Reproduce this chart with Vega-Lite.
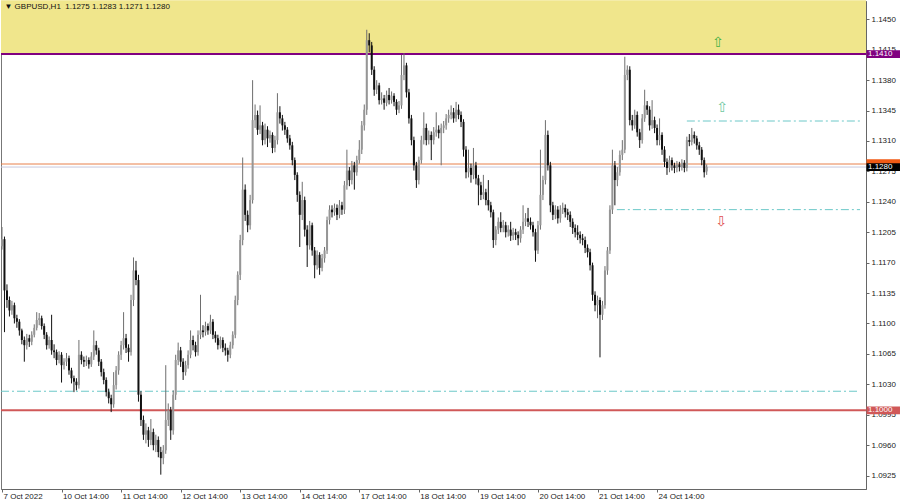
{
  "$schema": "https://vega.github.io/schema/vega-lite/v6.json",
  "width": 865,
  "height": 488,
  "autosize": {"type": "none"},
  "padding": {"left": 1, "top": 1, "right": 34, "bottom": 13},
  "background": "white",
  "config": {
    "view": {"stroke": "#777", "strokeWidth": 1},
    "axis": {"labelFont": "Liberation Sans", "labelFontSize": 8, "labelColor": "#222", "grid": false, "domainColor": "#666", "tickColor": "#666", "labelOverlap": false, "labelFlush": false, "zindex": 0}
  },
  "datasets": {
    "candles": [
      {"i":0,"o":1.1189,"h":1.1211,"l":1.1185,"c":1.1197},
      {"i":1,"o":1.1197,"h":1.1200,"l":1.1090,"c":1.1138},
      {"i":2,"o":1.1138,"h":1.1145,"l":1.1118,"c":1.1127},
      {"i":3,"o":1.1127,"h":1.1131,"l":1.1108,"c":1.1115},
      {"i":4,"o":1.1115,"h":1.1126,"l":1.1110,"c":1.1121},
      {"i":5,"o":1.1121,"h":1.1124,"l":1.1100,"c":1.1106},
      {"i":6,"o":1.1106,"h":1.1110,"l":1.1095,"c":1.1102},
      {"i":7,"o":1.1102,"h":1.1105,"l":1.1086,"c":1.1092},
      {"i":8,"o":1.1092,"h":1.1094,"l":1.1076,"c":1.1081},
      {"i":9,"o":1.1081,"h":1.1085,"l":1.1056,"c":1.1075},
      {"i":10,"o":1.1075,"h":1.1088,"l":1.1070,"c":1.1083},
      {"i":11,"o":1.1083,"h":1.1087,"l":1.1073,"c":1.1079},
      {"i":12,"o":1.1079,"h":1.1091,"l":1.1075,"c":1.1087},
      {"i":13,"o":1.1087,"h":1.1099,"l":1.1084,"c":1.1095},
      {"i":14,"o":1.1095,"h":1.1113,"l":1.1092,"c":1.1104},
      {"i":15,"o":1.1104,"h":1.1112,"l":1.1098,"c":1.1106},
      {"i":16,"o":1.1106,"h":1.1109,"l":1.1093,"c":1.1097},
      {"i":17,"o":1.1097,"h":1.1100,"l":1.1082,"c":1.1087},
      {"i":18,"o":1.1087,"h":1.1090,"l":1.1070,"c":1.1075},
      {"i":19,"o":1.1075,"h":1.1085,"l":1.1071,"c":1.1081},
      {"i":20,"o":1.1081,"h":1.1110,"l":1.1064,"c":1.1069},
      {"i":21,"o":1.1069,"h":1.1076,"l":1.1060,"c":1.1067},
      {"i":22,"o":1.1067,"h":1.1070,"l":1.1052,"c":1.1058},
      {"i":23,"o":1.1058,"h":1.1068,"l":1.1054,"c":1.1064},
      {"i":24,"o":1.1064,"h":1.1067,"l":1.1032,"c":1.1052},
      {"i":25,"o":1.1052,"h":1.1060,"l":1.1047,"c":1.1056},
      {"i":26,"o":1.1056,"h":1.1066,"l":1.1051,"c":1.1060},
      {"i":27,"o":1.1060,"h":1.1063,"l":1.1041,"c":1.1046},
      {"i":28,"o":1.1046,"h":1.1049,"l":1.1031,"c":1.1037},
      {"i":29,"o":1.1037,"h":1.1040,"l":1.1021,"c":1.1033},
      {"i":30,"o":1.1033,"h":1.1037,"l":1.1023,"c":1.1029},
      {"i":31,"o":1.1029,"h":1.1081,"l":1.1025,"c":1.1064},
      {"i":32,"o":1.1064,"h":1.1068,"l":1.1053,"c":1.1058},
      {"i":33,"o":1.1058,"h":1.1062,"l":1.1050,"c":1.1056},
      {"i":34,"o":1.1056,"h":1.1063,"l":1.1051,"c":1.1058},
      {"i":35,"o":1.1058,"h":1.1061,"l":1.1048,"c":1.1053},
      {"i":36,"o":1.1053,"h":1.1067,"l":1.1050,"c":1.1062},
      {"i":37,"o":1.1062,"h":1.1092,"l":1.1058,"c":1.1075},
      {"i":38,"o":1.1075,"h":1.1080,"l":1.1064,"c":1.1069},
      {"i":39,"o":1.1069,"h":1.1072,"l":1.1051,"c":1.1056},
      {"i":40,"o":1.1056,"h":1.1059,"l":1.1039,"c":1.1044},
      {"i":41,"o":1.1044,"h":1.1048,"l":1.1030,"c":1.1035},
      {"i":42,"o":1.1035,"h":1.1038,"l":1.1016,"c":1.1021},
      {"i":43,"o":1.1021,"h":1.1025,"l":1.1008,"c":1.1014},
      {"i":44,"o":1.1014,"h":1.1018,"l":1.0998,"c":1.1007},
      {"i":45,"o":1.1007,"h":1.1044,"l":1.1003,"c":1.1029},
      {"i":46,"o":1.1029,"h":1.1051,"l":1.1024,"c":1.1046},
      {"i":47,"o":1.1046,"h":1.1068,"l":1.1041,"c":1.1064},
      {"i":48,"o":1.1064,"h":1.1080,"l":1.1058,"c":1.1075},
      {"i":49,"o":1.1075,"h":1.1113,"l":1.1070,"c":1.1083},
      {"i":50,"o":1.1083,"h":1.1088,"l":1.1066,"c":1.1072},
      {"i":51,"o":1.1072,"h":1.1076,"l":1.1056,"c":1.1067},
      {"i":52,"o":1.1067,"h":1.1133,"l":1.1063,"c":1.1127},
      {"i":53,"o":1.1127,"h":1.1176,"l":1.1120,"c":1.1161},
      {"i":54,"o":1.1161,"h":1.1172,"l":1.1144,"c":1.1150},
      {"i":55,"o":1.1150,"h":1.1156,"l":1.1010,"c":1.1018},
      {"i":56,"o":1.1018,"h":1.1022,"l":1.0982,"c":1.0989},
      {"i":57,"o":1.0989,"h":1.0994,"l":1.0966,"c":1.0972},
      {"i":58,"o":1.0972,"h":1.0985,"l":1.0962,"c":1.0977},
      {"i":59,"o":1.0977,"h":1.0981,"l":1.0958,"c":1.0966},
      {"i":60,"o":1.0966,"h":1.0990,"l":1.0960,"c":1.0975},
      {"i":61,"o":1.0975,"h":1.0979,"l":1.0954,"c":1.0960},
      {"i":62,"o":1.0960,"h":1.0972,"l":1.0952,"c":1.0966},
      {"i":63,"o":1.0966,"h":1.0970,"l":1.0946,"c":1.0952},
      {"i":64,"o":1.0952,"h":1.0958,"l":1.0926,"c":1.0945},
      {"i":65,"o":1.0945,"h":1.0960,"l":1.0938,"c":1.0954},
      {"i":66,"o":1.0954,"h":1.1052,"l":1.0950,"c":1.0989},
      {"i":67,"o":1.0989,"h":1.1008,"l":1.0982,"c":1.1000},
      {"i":68,"o":1.1000,"h":1.1004,"l":1.0966,"c":1.0977},
      {"i":69,"o":1.0977,"h":1.1023,"l":1.0972,"c":1.1018},
      {"i":70,"o":1.1018,"h":1.1064,"l":1.1012,"c":1.1058},
      {"i":71,"o":1.1058,"h":1.1078,"l":1.1052,"c":1.1069},
      {"i":72,"o":1.1069,"h":1.1073,"l":1.1050,"c":1.1056},
      {"i":73,"o":1.1056,"h":1.1060,"l":1.1035,"c":1.1044},
      {"i":74,"o":1.1044,"h":1.1057,"l":1.1040,"c":1.1052},
      {"i":75,"o":1.1052,"h":1.1069,"l":1.1048,"c":1.1064},
      {"i":76,"o":1.1064,"h":1.1092,"l":1.1060,"c":1.1081},
      {"i":77,"o":1.1081,"h":1.1086,"l":1.1069,"c":1.1075},
      {"i":78,"o":1.1075,"h":1.1079,"l":1.1062,"c":1.1067},
      {"i":79,"o":1.1067,"h":1.1092,"l":1.1063,"c":1.1087},
      {"i":80,"o":1.1087,"h":1.1133,"l":1.1082,"c":1.1092},
      {"i":81,"o":1.1092,"h":1.1098,"l":1.1084,"c":1.1090},
      {"i":82,"o":1.1090,"h":1.1102,"l":1.1086,"c":1.1097},
      {"i":83,"o":1.1097,"h":1.1100,"l":1.1087,"c":1.1092},
      {"i":84,"o":1.1092,"h":1.1110,"l":1.1088,"c":1.1102},
      {"i":85,"o":1.1102,"h":1.1105,"l":1.1082,"c":1.1087},
      {"i":86,"o":1.1087,"h":1.1091,"l":1.1078,"c":1.1083},
      {"i":87,"o":1.1083,"h":1.1087,"l":1.1070,"c":1.1075},
      {"i":88,"o":1.1075,"h":1.1085,"l":1.1071,"c":1.1081},
      {"i":89,"o":1.1081,"h":1.1084,"l":1.1067,"c":1.1072},
      {"i":90,"o":1.1072,"h":1.1077,"l":1.1063,"c":1.1069},
      {"i":91,"o":1.1069,"h":1.1072,"l":1.1056,"c":1.1064},
      {"i":92,"o":1.1064,"h":1.1079,"l":1.1060,"c":1.1075},
      {"i":93,"o":1.1075,"h":1.1091,"l":1.1071,"c":1.1087},
      {"i":94,"o":1.1087,"h":1.1132,"l":1.1083,"c":1.1127},
      {"i":95,"o":1.1127,"h":1.1160,"l":1.1121,"c":1.1156},
      {"i":96,"o":1.1156,"h":1.1202,"l":1.1150,"c":1.1196},
      {"i":97,"o":1.1196,"h":1.1291,"l":1.1190,"c":1.1254},
      {"i":98,"o":1.1254,"h":1.1260,"l":1.1218,"c":1.1225},
      {"i":99,"o":1.1225,"h":1.1230,"l":1.1205,"c":1.1213},
      {"i":100,"o":1.1213,"h":1.1248,"l":1.1208,"c":1.1242},
      {"i":101,"o":1.1242,"h":1.1380,"l":1.1238,"c":1.1334},
      {"i":102,"o":1.1334,"h":1.1352,"l":1.1325,"c":1.1340},
      {"i":103,"o":1.1340,"h":1.1345,"l":1.1317,"c":1.1323},
      {"i":104,"o":1.1323,"h":1.1351,"l":1.1318,"c":1.1328},
      {"i":105,"o":1.1328,"h":1.1332,"l":1.1305,"c":1.1311},
      {"i":106,"o":1.1311,"h":1.1330,"l":1.1306,"c":1.1323},
      {"i":107,"o":1.1323,"h":1.1327,"l":1.1303,"c":1.1313},
      {"i":108,"o":1.1313,"h":1.1322,"l":1.1308,"c":1.1317},
      {"i":109,"o":1.1317,"h":1.1320,"l":1.1296,"c":1.1302},
      {"i":110,"o":1.1302,"h":1.1316,"l":1.1297,"c":1.1311},
      {"i":111,"o":1.1311,"h":1.1365,"l":1.1306,"c":1.1343},
      {"i":112,"o":1.1343,"h":1.1350,"l":1.1330,"c":1.1336},
      {"i":113,"o":1.1336,"h":1.1340,"l":1.1322,"c":1.1328},
      {"i":114,"o":1.1328,"h":1.1332,"l":1.1317,"c":1.1323},
      {"i":115,"o":1.1323,"h":1.1326,"l":1.1308,"c":1.1313},
      {"i":116,"o":1.1313,"h":1.1317,"l":1.1300,"c":1.1305},
      {"i":117,"o":1.1305,"h":1.1309,"l":1.1282,"c":1.1288},
      {"i":118,"o":1.1288,"h":1.1291,"l":1.1265,"c":1.1271},
      {"i":119,"o":1.1271,"h":1.1274,"l":1.1240,"c":1.1248},
      {"i":120,"o":1.1248,"h":1.1252,"l":1.1188,"c":1.1225},
      {"i":121,"o":1.1225,"h":1.1263,"l":1.1219,"c":1.1242},
      {"i":122,"o":1.1242,"h":1.1246,"l":1.1200,"c":1.1208},
      {"i":123,"o":1.1208,"h":1.1213,"l":1.1165,"c":1.1190},
      {"i":124,"o":1.1190,"h":1.1218,"l":1.1185,"c":1.1213},
      {"i":125,"o":1.1213,"h":1.1216,"l":1.1178,"c":1.1184},
      {"i":126,"o":1.1184,"h":1.1188,"l":1.1152,"c":1.1167},
      {"i":127,"o":1.1167,"h":1.1184,"l":1.1162,"c":1.1179},
      {"i":128,"o":1.1179,"h":1.1182,"l":1.1156,"c":1.1164},
      {"i":129,"o":1.1164,"h":1.1180,"l":1.1160,"c":1.1175},
      {"i":130,"o":1.1175,"h":1.1188,"l":1.1170,"c":1.1184},
      {"i":131,"o":1.1184,"h":1.1223,"l":1.1180,"c":1.1219},
      {"i":132,"o":1.1219,"h":1.1236,"l":1.1214,"c":1.1231},
      {"i":133,"o":1.1231,"h":1.1236,"l":1.1222,"c":1.1228},
      {"i":134,"o":1.1228,"h":1.1238,"l":1.1224,"c":1.1233},
      {"i":135,"o":1.1233,"h":1.1237,"l":1.1219,"c":1.1225},
      {"i":136,"o":1.1225,"h":1.1242,"l":1.1221,"c":1.1236},
      {"i":137,"o":1.1236,"h":1.1240,"l":1.1225,"c":1.1231},
      {"i":138,"o":1.1231,"h":1.1264,"l":1.1226,"c":1.1259},
      {"i":139,"o":1.1259,"h":1.1300,"l":1.1254,"c":1.1276},
      {"i":140,"o":1.1276,"h":1.1280,"l":1.1258,"c":1.1265},
      {"i":141,"o":1.1265,"h":1.1287,"l":1.1260,"c":1.1282},
      {"i":142,"o":1.1282,"h":1.1286,"l":1.1254,"c":1.1274},
      {"i":143,"o":1.1274,"h":1.1293,"l":1.1270,"c":1.1288},
      {"i":144,"o":1.1288,"h":1.1311,"l":1.1284,"c":1.1300},
      {"i":145,"o":1.1300,"h":1.1333,"l":1.1295,"c":1.1328},
      {"i":146,"o":1.1328,"h":1.1352,"l":1.1322,"c":1.1346},
      {"i":147,"o":1.1346,"h":1.1438,"l":1.1340,"c":1.1426},
      {"i":148,"o":1.1426,"h":1.1434,"l":1.1412,"c":1.1420},
      {"i":149,"o":1.1420,"h":1.1424,"l":1.1386,"c":1.1392},
      {"i":150,"o":1.1392,"h":1.1396,"l":1.1362,"c":1.1369},
      {"i":151,"o":1.1369,"h":1.1380,"l":1.1364,"c":1.1374},
      {"i":152,"o":1.1374,"h":1.1377,"l":1.1352,"c":1.1357},
      {"i":153,"o":1.1357,"h":1.1366,"l":1.1352,"c":1.1359},
      {"i":154,"o":1.1359,"h":1.1363,"l":1.1346,"c":1.1354},
      {"i":155,"o":1.1354,"h":1.1368,"l":1.1350,"c":1.1363},
      {"i":156,"o":1.1363,"h":1.1371,"l":1.1352,"c":1.1357},
      {"i":157,"o":1.1357,"h":1.1367,"l":1.1353,"c":1.1362},
      {"i":158,"o":1.1362,"h":1.1365,"l":1.1350,"c":1.1355},
      {"i":159,"o":1.1355,"h":1.1358,"l":1.1340,"c":1.1346},
      {"i":160,"o":1.1346,"h":1.1356,"l":1.1342,"c":1.1351},
      {"i":161,"o":1.1351,"h":1.1409,"l":1.1347,"c":1.1386},
      {"i":162,"o":1.1386,"h":1.1411,"l":1.1380,"c":1.1397},
      {"i":163,"o":1.1397,"h":1.1400,"l":1.1360,"c":1.1366},
      {"i":164,"o":1.1366,"h":1.1370,"l":1.1330,"c":1.1336},
      {"i":165,"o":1.1336,"h":1.1340,"l":1.1305,"c":1.1311},
      {"i":166,"o":1.1311,"h":1.1315,"l":1.1276,"c":1.1282},
      {"i":167,"o":1.1282,"h":1.1286,"l":1.1256,"c":1.1265},
      {"i":168,"o":1.1265,"h":1.1292,"l":1.1260,"c":1.1288},
      {"i":169,"o":1.1288,"h":1.1316,"l":1.1284,"c":1.1311},
      {"i":170,"o":1.1311,"h":1.1343,"l":1.1306,"c":1.1325},
      {"i":171,"o":1.1325,"h":1.1330,"l":1.1305,"c":1.1311},
      {"i":172,"o":1.1311,"h":1.1322,"l":1.1306,"c":1.1317},
      {"i":173,"o":1.1317,"h":1.1321,"l":1.1288,"c":1.1311},
      {"i":174,"o":1.1311,"h":1.1326,"l":1.1306,"c":1.1320},
      {"i":175,"o":1.1320,"h":1.1343,"l":1.1315,"c":1.1323},
      {"i":176,"o":1.1323,"h":1.1328,"l":1.1313,"c":1.1319},
      {"i":177,"o":1.1319,"h":1.1330,"l":1.1282,"c":1.1325},
      {"i":178,"o":1.1325,"h":1.1333,"l":1.1319,"c":1.1328},
      {"i":179,"o":1.1328,"h":1.1341,"l":1.1323,"c":1.1336},
      {"i":180,"o":1.1336,"h":1.1346,"l":1.1331,"c":1.1340},
      {"i":181,"o":1.1340,"h":1.1351,"l":1.1335,"c":1.1343},
      {"i":182,"o":1.1343,"h":1.1348,"l":1.1331,"c":1.1336},
      {"i":183,"o":1.1336,"h":1.1355,"l":1.1332,"c":1.1346},
      {"i":184,"o":1.1346,"h":1.1352,"l":1.1335,"c":1.1340},
      {"i":185,"o":1.1340,"h":1.1344,"l":1.1326,"c":1.1332},
      {"i":186,"o":1.1332,"h":1.1335,"l":1.1292,"c":1.1300},
      {"i":187,"o":1.1300,"h":1.1304,"l":1.1267,"c":1.1274},
      {"i":188,"o":1.1274,"h":1.1300,"l":1.1268,"c":1.1279},
      {"i":189,"o":1.1279,"h":1.1284,"l":1.1262,"c":1.1271},
      {"i":190,"o":1.1271,"h":1.1302,"l":1.1266,"c":1.1282},
      {"i":191,"o":1.1282,"h":1.1286,"l":1.1260,"c":1.1267},
      {"i":192,"o":1.1267,"h":1.1271,"l":1.1236,"c":1.1259},
      {"i":193,"o":1.1259,"h":1.1263,"l":1.1242,"c":1.1248},
      {"i":194,"o":1.1248,"h":1.1271,"l":1.1243,"c":1.1251},
      {"i":195,"o":1.1251,"h":1.1255,"l":1.1236,"c":1.1242},
      {"i":196,"o":1.1242,"h":1.1265,"l":1.1230,"c":1.1236},
      {"i":197,"o":1.1236,"h":1.1240,"l":1.1222,"c":1.1228},
      {"i":198,"o":1.1228,"h":1.1231,"l":1.1187,"c":1.1196},
      {"i":199,"o":1.1196,"h":1.1212,"l":1.1190,"c":1.1208},
      {"i":200,"o":1.1208,"h":1.1222,"l":1.1203,"c":1.1217},
      {"i":201,"o":1.1217,"h":1.1228,"l":1.1205,"c":1.1210},
      {"i":202,"o":1.1210,"h":1.1219,"l":1.1205,"c":1.1213},
      {"i":203,"o":1.1213,"h":1.1217,"l":1.1199,"c":1.1205},
      {"i":204,"o":1.1205,"h":1.1213,"l":1.1200,"c":1.1208},
      {"i":205,"o":1.1208,"h":1.1217,"l":1.1195,"c":1.1201},
      {"i":206,"o":1.1201,"h":1.1210,"l":1.1196,"c":1.1205},
      {"i":207,"o":1.1205,"h":1.1209,"l":1.1196,"c":1.1202},
      {"i":208,"o":1.1202,"h":1.1206,"l":1.1190,"c":1.1198},
      {"i":209,"o":1.1198,"h":1.1212,"l":1.1193,"c":1.1208},
      {"i":210,"o":1.1208,"h":1.1236,"l":1.1203,"c":1.1217},
      {"i":211,"o":1.1217,"h":1.1227,"l":1.1212,"c":1.1221},
      {"i":212,"o":1.1221,"h":1.1233,"l":1.1211,"c":1.1217},
      {"i":213,"o":1.1217,"h":1.1222,"l":1.1208,"c":1.1213},
      {"i":214,"o":1.1213,"h":1.1217,"l":1.1200,"c":1.1205},
      {"i":215,"o":1.1205,"h":1.1209,"l":1.1171,"c":1.1184},
      {"i":216,"o":1.1184,"h":1.1218,"l":1.1180,"c":1.1213},
      {"i":217,"o":1.1213,"h":1.1300,"l":1.1208,"c":1.1248},
      {"i":218,"o":1.1248,"h":1.1270,"l":1.1242,"c":1.1265},
      {"i":219,"o":1.1265,"h":1.1334,"l":1.1260,"c":1.1317},
      {"i":220,"o":1.1317,"h":1.1322,"l":1.1276,"c":1.1282},
      {"i":221,"o":1.1282,"h":1.1286,"l":1.1228,"c":1.1236},
      {"i":222,"o":1.1236,"h":1.1240,"l":1.1219,"c":1.1225},
      {"i":223,"o":1.1225,"h":1.1236,"l":1.1220,"c":1.1231},
      {"i":224,"o":1.1231,"h":1.1235,"l":1.1215,"c":1.1221},
      {"i":225,"o":1.1221,"h":1.1236,"l":1.1216,"c":1.1231},
      {"i":226,"o":1.1231,"h":1.1239,"l":1.1226,"c":1.1233},
      {"i":227,"o":1.1233,"h":1.1237,"l":1.1222,"c":1.1228},
      {"i":228,"o":1.1228,"h":1.1232,"l":1.1219,"c":1.1225},
      {"i":229,"o":1.1225,"h":1.1229,"l":1.1211,"c":1.1217},
      {"i":230,"o":1.1217,"h":1.1221,"l":1.1203,"c":1.1210},
      {"i":231,"o":1.1210,"h":1.1214,"l":1.1199,"c":1.1205},
      {"i":232,"o":1.1205,"h":1.1213,"l":1.1196,"c":1.1202},
      {"i":233,"o":1.1202,"h":1.1206,"l":1.1192,"c":1.1198},
      {"i":234,"o":1.1198,"h":1.1203,"l":1.1190,"c":1.1196},
      {"i":235,"o":1.1196,"h":1.1200,"l":1.1181,"c":1.1187},
      {"i":236,"o":1.1187,"h":1.1191,"l":1.1176,"c":1.1182},
      {"i":237,"o":1.1182,"h":1.1186,"l":1.1161,"c":1.1167},
      {"i":238,"o":1.1167,"h":1.1170,"l":1.1126,"c":1.1133},
      {"i":239,"o":1.1133,"h":1.1137,"l":1.1114,"c":1.1121},
      {"i":240,"o":1.1121,"h":1.1132,"l":1.1106,"c":1.1127},
      {"i":241,"o":1.1127,"h":1.1130,"l":1.1061,"c":1.1110},
      {"i":242,"o":1.1110,"h":1.1126,"l":1.1104,"c":1.1121},
      {"i":243,"o":1.1121,"h":1.1166,"l":1.1117,"c":1.1161},
      {"i":244,"o":1.1161,"h":1.1188,"l":1.1156,"c":1.1184},
      {"i":245,"o":1.1184,"h":1.1236,"l":1.1180,"c":1.1231},
      {"i":246,"o":1.1231,"h":1.1300,"l":1.1226,"c":1.1282},
      {"i":247,"o":1.1282,"h":1.1287,"l":1.1236,"c":1.1265},
      {"i":248,"o":1.1265,"h":1.1280,"l":1.1258,"c":1.1274},
      {"i":249,"o":1.1274,"h":1.1299,"l":1.1270,"c":1.1294},
      {"i":250,"o":1.1294,"h":1.1311,"l":1.1288,"c":1.1300},
      {"i":251,"o":1.1300,"h":1.1407,"l":1.1296,"c":1.1386},
      {"i":252,"o":1.1386,"h":1.1397,"l":1.1380,"c":1.1392},
      {"i":253,"o":1.1392,"h":1.1396,"l":1.1328,"c":1.1334},
      {"i":254,"o":1.1334,"h":1.1340,"l":1.1322,"c":1.1328},
      {"i":255,"o":1.1328,"h":1.1346,"l":1.1324,"c":1.1340},
      {"i":256,"o":1.1340,"h":1.1344,"l":1.1315,"c":1.1320},
      {"i":257,"o":1.1320,"h":1.1324,"l":1.1302,"c":1.1311},
      {"i":258,"o":1.1311,"h":1.1341,"l":1.1307,"c":1.1336},
      {"i":259,"o":1.1336,"h":1.1369,"l":1.1332,"c":1.1351},
      {"i":260,"o":1.1351,"h":1.1356,"l":1.1340,"c":1.1346},
      {"i":261,"o":1.1346,"h":1.1350,"l":1.1322,"c":1.1328},
      {"i":262,"o":1.1328,"h":1.1357,"l":1.1324,"c":1.1334},
      {"i":263,"o":1.1334,"h":1.1338,"l":1.1319,"c":1.1325},
      {"i":264,"o":1.1325,"h":1.1329,"l":1.1305,"c":1.1311},
      {"i":265,"o":1.1311,"h":1.1336,"l":1.1305,"c":1.1317},
      {"i":266,"o":1.1317,"h":1.1320,"l":1.1294,"c":1.1300},
      {"i":267,"o":1.1300,"h":1.1304,"l":1.1280,"c":1.1286},
      {"i":268,"o":1.1286,"h":1.1290,"l":1.1271,"c":1.1279},
      {"i":269,"o":1.1279,"h":1.1293,"l":1.1274,"c":1.1288},
      {"i":270,"o":1.1288,"h":1.1291,"l":1.1276,"c":1.1282},
      {"i":271,"o":1.1282,"h":1.1285,"l":1.1273,"c":1.1279},
      {"i":272,"o":1.1279,"h":1.1287,"l":1.1274,"c":1.1283},
      {"i":273,"o":1.1283,"h":1.1286,"l":1.1275,"c":1.1280},
      {"i":274,"o":1.1280,"h":1.1289,"l":1.1276,"c":1.1285},
      {"i":275,"o":1.1285,"h":1.1288,"l":1.1274,"c":1.1279},
      {"i":276,"o":1.1279,"h":1.1315,"l":1.1275,"c":1.1311},
      {"i":277,"o":1.1311,"h":1.1318,"l":1.1304,"c":1.1309},
      {"i":278,"o":1.1309,"h":1.1325,"l":1.1305,"c":1.1317},
      {"i":279,"o":1.1317,"h":1.1321,"l":1.1307,"c":1.1313},
      {"i":280,"o":1.1313,"h":1.1316,"l":1.1300,"c":1.1305},
      {"i":281,"o":1.1305,"h":1.1309,"l":1.1294,"c":1.1300},
      {"i":282,"o":1.1300,"h":1.1303,"l":1.1282,"c":1.1288},
      {"i":283,"o":1.1288,"h":1.1291,"l":1.1268,"c":1.1274},
      {"i":284,"o":1.1275,"h":1.1283,"l":1.1271,"c":1.1280}
    ]
  },
  "layer": [
    {
      "data": {"values": [{"i": -0.4, "i2": 348.2, "p": 1.1410, "p2": 1.1472}]},
      "mark": {"type": "rect", "color": "#f0e68c"},
      "encoding": {
        "x": {
          "field": "i", "type": "quantitative", "title": null,
          "scale": {"domain": [-0.4, 348.2], "nice": false, "zero": false, "padding": 0},
          "axis": {
            "orient": "bottom",
            "values": [0, 24, 48, 72, 96, 120, 144, 168, 192, 216, 240, 264],
            "tickCount": 30,
            "labelExpr": "['7 Oct 2022','10 Oct 14:00','11 Oct 14:00','12 Oct 14:00','13 Oct 14:00','14 Oct 14:00','17 Oct 14:00','18 Oct 14:00','19 Oct 14:00','20 Oct 14:00','21 Oct 14:00','24 Oct 14:00'][round(datum.value/24)]",
            "labelAlign": "left",
            "labelBaseline": "top",
            "labelFlush": false,
            "labelOverlap": false,
            "labelOffset": 1,
            "tickSize": 3,
            "labelPadding": 0,
            "zindex": 0,
            "title": null
          }
        },
        "x2": {"field": "i2"},
        "y": {
          "field": "p", "type": "quantitative", "title": null,
          "scale": {"domain": [1.09095, 1.14711], "nice": false, "zero": false, "padding": 0},
          "axis": {
            "orient": "right",
            "values": [1.0925, 1.096, 1.0995, 1.103, 1.1065, 1.11, 1.1135, 1.117, 1.1205, 1.124, 1.1275, 1.131, 1.1345, 1.138, 1.1415, 1.145],
            "tickCount": 30,
            "format": ".4f",
            "labelFlush": false,
            "labelOverlap": false,
            "labelBaseline": "middle",
            "tickSize": 3,
            "labelPadding": 2,
            "zindex": 0,
            "title": null
          }
        },
        "y2": {"field": "p2"}
      }
    },
    {
      "data": {"values": [{"i": -0.4, "i2": 345.8, "p": 1.1022}, {"i": 276, "i2": 345.8, "p": 1.1333}, {"i": 247.8, "i2": 345.8, "p": 1.1231}]},
      "mark": {"type": "rule", "color": "#6cc8c8", "strokeWidth": 1, "strokeDash": [8, 3, 2, 3]},
      "encoding": {
        "x": {"field": "i", "type": "quantitative", "title": null},
        "x2": {"field": "i2"},
        "y": {"field": "p", "type": "quantitative", "title": null}
      }
    },
    {
      "data": {"values": [{"p": 1.1280}]},
      "mark": {"type": "rule", "color": "#c8c8dc", "strokeWidth": 1},
      "encoding": {"y": {"field": "p", "type": "quantitative", "title": null}}
    },
    {
      "data": {"values": [{"p": 1.12835}]},
      "mark": {"type": "rule", "color": "#e8804a", "strokeWidth": 1},
      "encoding": {"y": {"field": "p", "type": "quantitative", "title": null}}
    },
    {
      "data": {"values": [{"p": 1.1410}]},
      "mark": {"type": "rule", "color": "#800080", "strokeWidth": 2},
      "encoding": {"y": {"field": "p", "type": "quantitative", "title": null}}
    },
    {
      "data": {"values": [{"p": 1.1000}]},
      "mark": {"type": "rule", "color": "#d05858", "strokeWidth": 2},
      "encoding": {"y": {"field": "p", "type": "quantitative", "title": null}}
    },
    {
      "data": {"name": "candles"},
      "mark": {"type": "rule", "strokeWidth": 1},
      "encoding": {
        "x": {"field": "i", "type": "quantitative", "title": null},
        "y": {"field": "l", "type": "quantitative", "title": null},
        "y2": {"field": "h"},
        "color": {"condition": {"test": "datum.c < datum.o", "value": "#111111"}, "value": "#6e6e6e"}
      }
    },
    {
      "data": {"name": "candles"},
      "mark": {"type": "bar", "size": 2},
      "encoding": {
        "x": {"field": "i", "type": "quantitative", "title": null},
        "y": {"field": "o", "type": "quantitative", "title": null},
        "y2": {"field": "c"},
        "color": {"condition": {"test": "datum.c < datum.o", "value": "#111111"}, "value": "#969696"}
      }
    },
    {
      "data": {"values": [{"i": 288.5, "p": 1.1423, "t": "⇧"}]},
      "mark": {"type": "text", "font": "DejaVu Sans", "fontSize": 14, "color": "#44b044", "baseline": "middle"},
      "encoding": {
        "x": {"field": "i", "type": "quantitative", "title": null},
        "y": {"field": "p", "type": "quantitative", "title": null},
        "text": {"field": "t"}
      }
    },
    {
      "data": {"values": [{"i": 290.2, "p": 1.1348, "t": "⇧"}]},
      "mark": {"type": "text", "font": "DejaVu Sans", "fontSize": 14, "color": "#70c8a0", "baseline": "middle"},
      "encoding": {
        "x": {"field": "i", "type": "quantitative", "title": null},
        "y": {"field": "p", "type": "quantitative", "title": null},
        "text": {"field": "t"}
      }
    },
    {
      "data": {"values": [{"i": 289.8, "p": 1.1217, "t": "⇩"}]},
      "mark": {"type": "text", "font": "DejaVu Sans", "fontSize": 14, "color": "#e05050", "baseline": "middle"},
      "encoding": {
        "x": {"field": "i", "type": "quantitative", "title": null},
        "y": {"field": "p", "type": "quantitative", "title": null},
        "text": {"field": "t"}
      }
    },
    {
      "data": {"values": [{"i": 1.0, "p": 1.1464, "t": "▼ GBPUSD,H1\u00a0 1.1275 1.1283 1.1271 1.1280"}]},
      "mark": {"type": "text", "font": "Liberation Sans", "fontSize": 8, "color": "#111", "align": "left", "baseline": "middle"},
      "encoding": {
        "x": {"field": "i", "type": "quantitative", "title": null},
        "y": {"field": "p", "type": "quantitative", "title": null},
        "text": {"field": "t"}
      }
    },
    {
      "data": {"values": [{"i": 348.4, "i2": 361.9, "p": 1.14055, "p2": 1.14145}]},
      "mark": {"type": "rect", "color": "#800080"},
      "encoding": {
        "x": {"field": "i", "type": "quantitative", "title": null},
        "x2": {"field": "i2"},
        "y": {"field": "p", "type": "quantitative", "title": null},
        "y2": {"field": "p2"}
      }
    },
    {
      "data": {"values": [{"i": 348.4, "i2": 361.9, "p": 1.12815, "p2": 1.1289}]},
      "mark": {"type": "rect", "color": "#f05a14"},
      "encoding": {
        "x": {"field": "i", "type": "quantitative", "title": null},
        "x2": {"field": "i2"},
        "y": {"field": "p", "type": "quantitative", "title": null},
        "y2": {"field": "p2"}
      }
    },
    {
      "data": {"values": [{"i": 348.4, "i2": 361.9, "p": 1.12755, "p2": 1.12845}]},
      "mark": {"type": "rect", "color": "#000000"},
      "encoding": {
        "x": {"field": "i", "type": "quantitative", "title": null},
        "x2": {"field": "i2"},
        "y": {"field": "p", "type": "quantitative", "title": null},
        "y2": {"field": "p2"}
      }
    },
    {
      "data": {"values": [{"i": 348.4, "i2": 361.9, "p": 1.09955, "p2": 1.10045}]},
      "mark": {"type": "rect", "color": "#d05858"},
      "encoding": {
        "x": {"field": "i", "type": "quantitative", "title": null},
        "x2": {"field": "i2"},
        "y": {"field": "p", "type": "quantitative", "title": null},
        "y2": {"field": "p2"}
      }
    },
    {
      "data": {"values": [{"i": 349.0, "p": 1.1410, "t": "1.1410"}, {"i": 349.0, "p": 1.1280, "t": "1.1280"}, {"i": 349.0, "p": 1.1000, "t": "1.1000"}]},
      "mark": {"type": "text", "font": "Liberation Sans", "fontSize": 8, "color": "white", "align": "left", "baseline": "middle"},
      "encoding": {
        "x": {"field": "i", "type": "quantitative", "title": null},
        "y": {"field": "p", "type": "quantitative", "title": null},
        "text": {"field": "t"}
      }
    }
  ]
}
